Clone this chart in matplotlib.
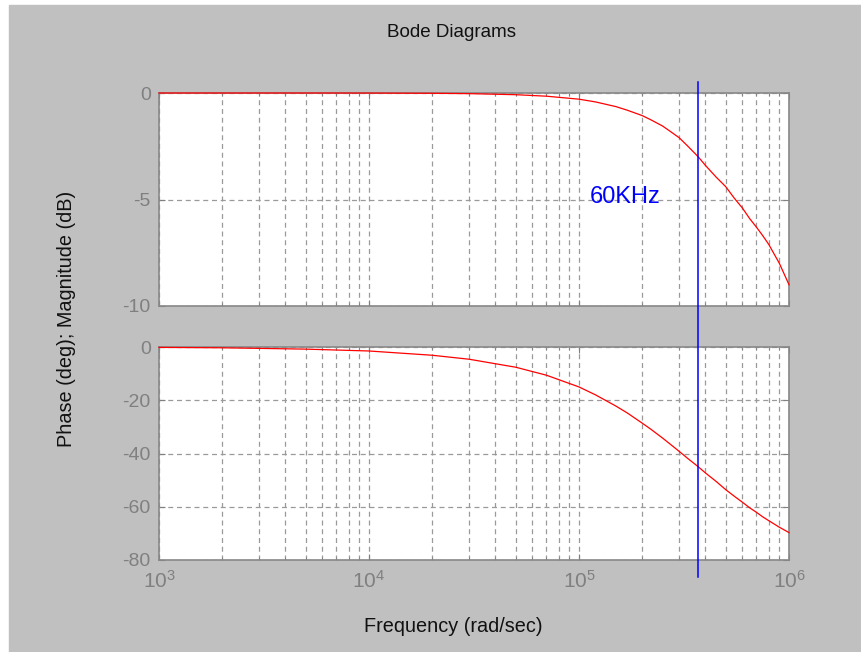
import numpy as np
import matplotlib
matplotlib.use('Agg')
import matplotlib.pyplot as plt
from matplotlib.patches import Rectangle
from matplotlib.lines import Line2D
from matplotlib.transforms import blended_transform_factory

# values
freq = [1e3, 2e3, 5e3, 1e4, 2e4, 3e4, 5e4, 7e4, 1e5, 1.2e5, 1.5e5, 1.7e5,
        2e5, 2.2e5, 2.5e5, 2.7e5, 3e5, 3.3e5, 3.7e5, 4e5, 4.5e5, 5e5, 5.5e5,
        6e5, 6.5e5, 7e5, 7.5e5, 8e5, 9e5, 1e6]
mag_db = [0.0, 0.0, 0.0, -0.003, -0.013, -0.03, -0.08, -0.15, -0.29, -0.42,
          -0.64, -0.81, -1.06, -1.26, -1.55, -1.78, -2.1, -2.5, -3.0, -3.4,
          -3.95, -4.4, -4.95, -5.4, -5.9, -6.3, -6.7, -7.1, -8.0, -9.0]
phase_deg = [-0.15, -0.3, -0.8, -1.5, -3.1, -4.6, -7.6, -10.6, -15.0, -18.0,
             -22.2, -24.8, -28.6, -30.9, -34.2, -36.3, -39.2, -41.9, -45.0, -47.3,
             -50.5, -53.6, -56.1, -58.3, -60.4, -62.1, -63.8, -65.2, -67.7, -69.7]
cutoff_freq = 3.67e5
cutoff_label = '60KHz'

mag_ticks = [-10, -5, 0]
phase_ticks = [-80, -60, -40, -20, 0]

bg_grey = '#c0c0c0'
tick_grey = '#808080'
grid_grey = '#9a9a9a'
font = 'Liberation Sans'


def style_axes(ax):
    ax.set_facecolor('white')
    ax.set_xscale('log')
    ax.set_xlim(1e3, 1e6)
    for sp in ax.spines.values():
        sp.set_color('#888888')
        sp.set_linewidth(1.2)
    ax.tick_params(axis='both', which='both', direction='in', colors=tick_grey,
                   labelsize=14, top=True, right=True, pad=6)
    ax.tick_params(axis='both', which='major', length=4)
    ax.tick_params(axis='both', which='minor', length=2)
    ax.grid(True, which='major', axis='both', color=grid_grey,
            linestyle=(0, (4, 3)), linewidth=0.9)
    ax.grid(True, which='minor', axis='x', color=grid_grey,
            linestyle=(0, (4, 3)), linewidth=0.9)
    ax.set_axisbelow(True)


def plot_bode(output_path='out.png'):
    plt.rcParams['font.family'] = [font, 'DejaVu Sans']
    fig = plt.figure(figsize=(8.62, 6.52), dpi=100)
    fig.patch.set_facecolor('white')
    # grey window area, small white margin on top and left
    fig.add_artist(Rectangle((9 / 862., 0), 1 - 9 / 862., 1 - 5 / 652.,
                             transform=fig.transFigure, color=bg_grey, zorder=-10))

    left, width, height = 159 / 862., 630 / 862., 213 / 652.
    ax1 = fig.add_axes([left, 1 - 306 / 652., width, height])
    ax2 = fig.add_axes([left, 1 - 560 / 652., width, height])

    for ax in (ax1, ax2):
        style_axes(ax)

    ax1.plot(freq, mag_db, color='#ff0000', linewidth=0.9, clip_on=False, zorder=3)
    ax1.set_ylim(-10, 0)
    ax1.set_yticks(mag_ticks)
    ax1.set_yticklabels([str(t) for t in mag_ticks])
    ax1.tick_params(axis='x', which='both', labelbottom=False)

    ax2.plot(freq, phase_deg, color='#ff0000', linewidth=0.9, clip_on=False, zorder=3)
    ax2.set_ylim(-80, 0)
    ax2.set_yticks(phase_ticks)
    ax2.set_yticklabels([str(t) for t in phase_ticks])
    ax2.tick_params(axis='x', which='major', labelsize=15, pad=7)

    # cutoff marker goes through both panels and a bit past them,
    # put it on the figure so neither axes covers it
    trans = blended_transform_factory(ax1.transData, fig.transFigure)
    marker = Line2D([cutoff_freq, cutoff_freq], [1 - 577 / 652., 1 - 82 / 652.],
                    transform=trans, color='#0000ff', linewidth=1.1, zorder=5)
    fig.add_artist(marker)
    ax1.text(1.13e5, -5.15, cutoff_label, color='#0000ff', fontsize=17,
             ha='left', va='baseline')

    fig.text(452 / 862., 1 - 37 / 652., 'Bode Diagrams', ha='center',
             va='baseline', fontsize=13.5, color='#111111')
    fig.text(453 / 862., 1 - 632 / 652., 'Frequency (rad/sec)', ha='center',
             va='baseline', fontsize=14.3, color='#111111')
    fig.text(67 / 862., 1 - 319 / 652., 'Phase (deg); Magnitude (dB)', ha='center',
             va='center', rotation=90, fontsize=14.3, color='#111111')

    fig.savefig(output_path, dpi=100, facecolor=fig.get_facecolor())
    plt.close(fig)


if __name__ == '__main__':
    plot_bode()
